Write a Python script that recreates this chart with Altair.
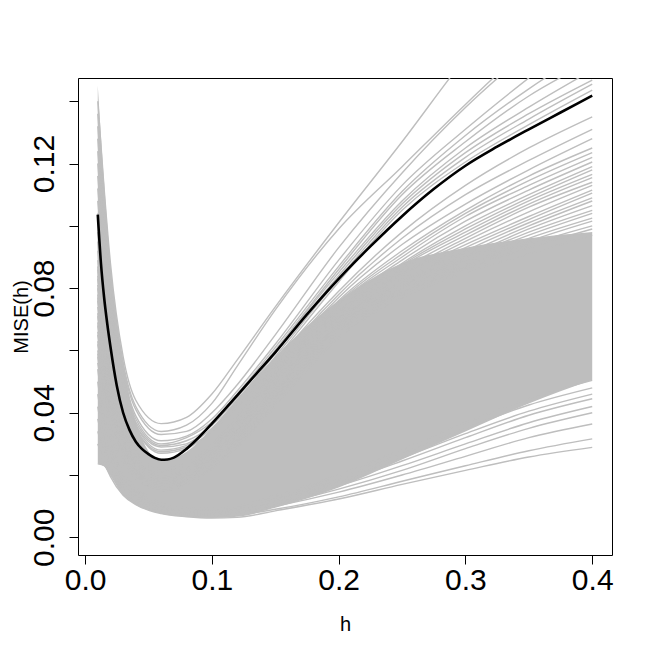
import altair as alt
import pandas as pd

# bandwidth grid used for the grey curves
h_grid = [0.01, 0.015, 0.02, 0.03, 0.04, 0.06, 0.08, 0.1, 0.12, 0.15, 0.2, 0.25, 0.3, 0.35, 0.4]

# dense core of the grey bundle (lower / upper edge where the curves form a solid band)
core_low = [0.0236, 0.0228, 0.0198, 0.0135, 0.0105, 0.0076, 0.0066, 0.0062, 0.0066, 0.0095, 0.016, 0.025, 0.034, 0.043, 0.0505]
core_high = [0.145, 0.114, 0.088, 0.057, 0.037, 0.0245, 0.0275, 0.035, 0.0445, 0.058, 0.076, 0.088, 0.093, 0.096, 0.098]

# upper curves (rise above the mean curve / leave the plot)
upper_curves = [
    [0.140, 0.112, 0.088, 0.058, 0.044, 0.0365, 0.0385, 0.046, 0.057, 0.074, 0.101, 0.127, 0.154, 0.178, 0.200],
    [0.136, 0.108, 0.085, 0.056, 0.042, 0.034, 0.036, 0.043, 0.055, 0.073, 0.099, 0.119, 0.139, 0.158, 0.175],
    [0.132, 0.105, 0.083, 0.055, 0.041, 0.033, 0.034, 0.040, 0.049, 0.065, 0.093, 0.117, 0.138, 0.156, 0.172],
    [0.128, 0.102, 0.080, 0.053, 0.039, 0.031, 0.0325, 0.038, 0.047, 0.062, 0.089, 0.113, 0.131, 0.1475, 0.163],
    [0.124, 0.099, 0.078, 0.052, 0.038, 0.030, 0.032, 0.037, 0.046, 0.061, 0.087, 0.111, 0.129, 0.144, 0.157],
    [0.120, 0.096, 0.076, 0.051, 0.037, 0.0295, 0.031, 0.036, 0.045, 0.060, 0.086, 0.110, 0.127, 0.1417, 0.153],
    [0.116, 0.093, 0.074, 0.049, 0.036, 0.029, 0.030, 0.036, 0.045, 0.060, 0.085, 0.108, 0.125, 0.1381, 0.150],
    [0.112, 0.090, 0.072, 0.048, 0.036, 0.028, 0.0295, 0.035, 0.044, 0.059, 0.084, 0.107, 0.1235, 0.136, 0.1468],
    [0.108, 0.087, 0.070, 0.047, 0.035, 0.0275, 0.029, 0.034, 0.043, 0.058, 0.083, 0.106, 0.122, 0.1343, 0.1455],
    [0.104, 0.084, 0.068, 0.046, 0.035, 0.027, 0.0285, 0.034, 0.042, 0.057, 0.082, 0.105, 0.1205, 0.1325, 0.1436],
]

# middle curves (end between 0.097 and 0.135)
middle_curves = [
    [0.098, 0.072, 0.056, 0.037, 0.028, 0.022, 0.024, 0.030, 0.039, 0.056, 0.079, 0.098, 0.113, 0.125, 0.135],
    [0.095, 0.070, 0.055, 0.036, 0.027, 0.021, 0.023, 0.029, 0.038, 0.055, 0.078, 0.096, 0.110, 0.121, 0.131],
    [0.092, 0.068, 0.053, 0.035, 0.027, 0.021, 0.023, 0.029, 0.037, 0.054, 0.077, 0.094, 0.107, 0.118, 0.128],
    [0.089, 0.066, 0.052, 0.034, 0.026, 0.020, 0.022, 0.028, 0.037, 0.053, 0.076, 0.092, 0.105, 0.116, 0.125],
    [0.087, 0.065, 0.051, 0.0335, 0.0255, 0.020, 0.022, 0.028, 0.0365, 0.0525, 0.0755, 0.091, 0.104, 0.1145, 0.1235],
    [0.086, 0.064, 0.050, 0.033, 0.025, 0.020, 0.022, 0.028, 0.036, 0.052, 0.075, 0.090, 0.103, 0.113, 0.122],
    [0.084, 0.063, 0.0495, 0.0325, 0.025, 0.0195, 0.0215, 0.0275, 0.0355, 0.0515, 0.074, 0.089, 0.1015, 0.1115, 0.1205],
    [0.083, 0.062, 0.049, 0.032, 0.025, 0.019, 0.021, 0.027, 0.035, 0.051, 0.073, 0.088, 0.100, 0.110, 0.119],
    [0.081, 0.061, 0.048, 0.0315, 0.0245, 0.019, 0.021, 0.0265, 0.0345, 0.0505, 0.0725, 0.0875, 0.099, 0.109, 0.118],
    [0.080, 0.060, 0.047, 0.031, 0.024, 0.019, 0.021, 0.026, 0.034, 0.050, 0.072, 0.087, 0.098, 0.108, 0.1165],
    [0.078, 0.059, 0.0465, 0.0305, 0.0235, 0.0185, 0.0205, 0.026, 0.034, 0.0495, 0.0715, 0.086, 0.097, 0.107, 0.1155],
    [0.077, 0.058, 0.046, 0.030, 0.023, 0.018, 0.020, 0.026, 0.034, 0.049, 0.071, 0.085, 0.096, 0.106, 0.114],
    [0.076, 0.057, 0.045, 0.030, 0.023, 0.018, 0.020, 0.0255, 0.0335, 0.0485, 0.0705, 0.0845, 0.095, 0.1045, 0.113],
    [0.074, 0.056, 0.044, 0.030, 0.023, 0.018, 0.020, 0.025, 0.033, 0.048, 0.070, 0.084, 0.094, 0.103, 0.1115],
    [0.072, 0.055, 0.0435, 0.0295, 0.0225, 0.0175, 0.0195, 0.025, 0.0325, 0.0475, 0.0695, 0.083, 0.093, 0.102, 0.1105],
    [0.071, 0.054, 0.043, 0.029, 0.022, 0.017, 0.019, 0.025, 0.032, 0.047, 0.069, 0.082, 0.092, 0.101, 0.109],
    [0.069, 0.053, 0.042, 0.0285, 0.0215, 0.017, 0.019, 0.0245, 0.032, 0.0465, 0.0685, 0.0815, 0.091, 0.100, 0.108],
    [0.068, 0.052, 0.041, 0.028, 0.021, 0.017, 0.019, 0.024, 0.032, 0.046, 0.068, 0.081, 0.090, 0.099, 0.1065],
    [0.066, 0.051, 0.0405, 0.0275, 0.021, 0.0165, 0.0185, 0.024, 0.031, 0.0455, 0.0675, 0.0805, 0.0895, 0.098, 0.105],
    [0.065, 0.050, 0.040, 0.027, 0.021, 0.016, 0.018, 0.024, 0.031, 0.045, 0.067, 0.080, 0.089, 0.097, 0.104],
    [0.063, 0.049, 0.039, 0.0265, 0.0205, 0.016, 0.018, 0.0235, 0.0305, 0.0445, 0.0665, 0.0795, 0.088, 0.096, 0.1025],
    [0.062, 0.048, 0.038, 0.026, 0.020, 0.016, 0.018, 0.023, 0.030, 0.044, 0.066, 0.079, 0.087, 0.095, 0.1015],
    [0.060, 0.047, 0.0375, 0.0255, 0.0195, 0.0155, 0.0175, 0.0225, 0.0295, 0.0435, 0.0655, 0.0785, 0.0865, 0.094, 0.100],
    [0.059, 0.046, 0.037, 0.025, 0.019, 0.015, 0.017, 0.022, 0.029, 0.043, 0.065, 0.078, 0.086, 0.093, 0.099],
    [0.056, 0.044, 0.035, 0.024, 0.019, 0.015, 0.017, 0.022, 0.029, 0.042, 0.064, 0.077, 0.085, 0.091, 0.097],
]

# lower curves (end between 0.029 and 0.051)
lower_curves = [
    [0.030, 0.024, 0.0195, 0.0135, 0.0105, 0.0076, 0.0066, 0.0062, 0.0064, 0.0085, 0.0123, 0.0170, 0.0215, 0.0258, 0.0289],
    [0.0236, 0.0230, 0.0203, 0.0145, 0.0112, 0.0080, 0.0070, 0.0068, 0.0072, 0.0090, 0.0130, 0.0180, 0.0230, 0.0278, 0.0316],
    [0.034, 0.027, 0.022, 0.015, 0.0118, 0.0085, 0.0074, 0.0072, 0.0078, 0.0100, 0.0145, 0.0200, 0.0260, 0.0320, 0.0364],
    [0.038, 0.029, 0.023, 0.016, 0.0122, 0.0088, 0.0077, 0.0075, 0.0082, 0.0105, 0.0155, 0.0215, 0.0285, 0.0350, 0.0400],
    [0.042, 0.031, 0.025, 0.017, 0.013, 0.0092, 0.0080, 0.0078, 0.0085, 0.0110, 0.0165, 0.0230, 0.0300, 0.0368, 0.0420],
    [0.046, 0.034, 0.026, 0.018, 0.0135, 0.0096, 0.0083, 0.0082, 0.0090, 0.0118, 0.0175, 0.0245, 0.0320, 0.0392, 0.0445],
    [0.050, 0.036, 0.028, 0.019, 0.014, 0.010, 0.0086, 0.0085, 0.0092, 0.0122, 0.0182, 0.0255, 0.0333, 0.0405, 0.0460],
    [0.054, 0.039, 0.030, 0.020, 0.015, 0.0105, 0.0090, 0.0088, 0.0095, 0.0128, 0.0190, 0.0268, 0.0350, 0.0425, 0.0480],
    [0.058, 0.042, 0.032, 0.021, 0.016, 0.011, 0.0094, 0.0092, 0.0100, 0.0135, 0.0200, 0.0282, 0.0368, 0.0445, 0.0504],
]

# mean curve (black)
black_h = [0.01, 0.0125, 0.015, 0.0175, 0.02, 0.025, 0.03, 0.035, 0.04, 0.045, 0.05, 0.055, 0.06, 0.065, 0.07,
           0.08, 0.09, 0.1, 0.11, 0.12, 0.135, 0.15, 0.175, 0.2, 0.225, 0.25, 0.275, 0.3, 0.325, 0.35, 0.375, 0.4]
black_mise = [0.1036, 0.088, 0.077, 0.0685, 0.0612, 0.0487, 0.0400, 0.0345, 0.0307, 0.0283, 0.0267, 0.0255, 0.0249, 0.0250, 0.0256,
              0.0284, 0.0322, 0.0365, 0.0410, 0.0456, 0.0525, 0.0594, 0.0716, 0.0830, 0.0934, 0.1031, 0.1118, 0.1193, 0.1254, 0.1310, 0.1364, 0.1418]

x_ticks = [0.0, 0.1, 0.2, 0.3, 0.4]
y_ticks = [0.0, 0.02, 0.04, 0.06, 0.08, 0.10, 0.12, 0.14]

# ---- build tables ----
core_df = pd.DataFrame({"h": h_grid, "lo": core_low, "hi": core_high})
rows = []
for gi, group in enumerate([upper_curves, middle_curves, lower_curves]):
    for ci, vals in enumerate(group):
        for h, v in zip(h_grid, vals):
            rows.append({"h": h, "mise": v, "curve": f"{gi}-{ci}"})
grey_df = pd.DataFrame(rows)
black_df = pd.DataFrame({"h": black_h, "mise": black_mise})

FONT = "Liberation Sans"
GREY = "#BEBEBE"

x_scale = alt.Scale(domain=[-0.0056, 0.4156], nice=False, zero=False)
y_scale = alt.Scale(domain=[-0.00567, 0.14747], nice=False, zero=False)

x_axis = alt.Axis(
    values=x_ticks, format=".1f", title="h",
    labelFont=FONT, labelFontSize=30, labelColor="black",
    labelBaseline="alphabetic", labelPadding=25, labelOverlap=False, labelFlush=False,
    titleFont=FONT, titleFontSize=20, titleColor="black", titleFontWeight="normal",
    titleBaseline="alphabetic", titleX=267, titleY=75, titleAlign="center",
    tickSize=9, tickColor="black", tickWidth=1, domain=False, grid=False,
)
y_axis = alt.Axis(
    values=y_ticks, title="MISE(h)",
    labelExpr="(round(datum.value * 100) % 4 == 0) ? format(datum.value, '.2f') : ''",
    labelFont=FONT, labelFontSize=30, labelColor="black", labelAngle=-90,
    labelAlign="center", labelBaseline="alphabetic", labelPadding=16, labelOverlap=False, labelFlush=False,
    titleFont=FONT, titleFontSize=20, titleColor="black", titleFontWeight="normal",
    titleAngle=-90, titleBaseline="alphabetic", titleAlign="center", titleX=-51, titleY=238.5,
    tickSize=9, tickColor="black", tickWidth=1, domain=False, grid=False,
)

core = alt.Chart(core_df).mark_area(color=GREY, interpolate="monotone", opacity=1).encode(
    x=alt.X("h:Q", scale=x_scale, axis=x_axis),
    y=alt.Y("lo:Q", scale=y_scale, axis=y_axis),
    y2="hi:Q",
)
grey = alt.Chart(grey_df).mark_line(color=GREY, strokeWidth=1.4, interpolate="monotone", clip=True).encode(
    x=alt.X("h:Q", scale=x_scale),
    y=alt.Y("mise:Q", scale=y_scale),
    detail="curve:N",
)
black = alt.Chart(black_df).mark_line(color="black", strokeWidth=2.6, interpolate="monotone").encode(
    x=alt.X("h:Q", scale=x_scale),
    y=alt.Y("mise:Q", scale=y_scale),
)

chart = alt.layer(core, grey, black).properties(
    width=534, height=477,
    autosize=alt.AutoSizeParams(type="none"),
    padding={"left": 70, "top": 70, "right": 33, "bottom": 79},
    background="white",
).configure_view(stroke="black", strokeWidth=1)

chart.save("out.html", embed_options={"renderer": "svg", "actions": False})
